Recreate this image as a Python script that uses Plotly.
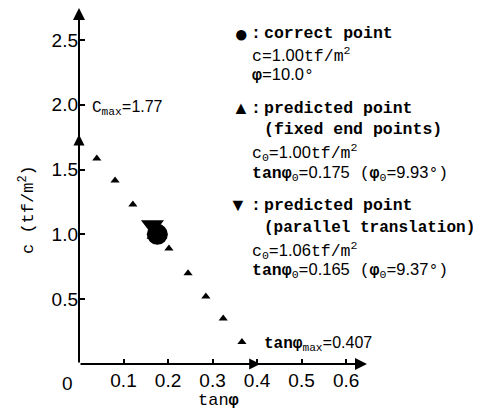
import plotly.graph_objects as go

# ---- data ----
tan_phi_pred = [0.040, 0.081, 0.121, 0.202, 0.245, 0.285, 0.324, 0.366]
c_pred = [1.585, 1.415, 1.23, 0.89, 0.70, 0.52, 0.35, 0.17]
correct_tan, correct_c = [0.176], [1.00]
fixed_tan, fixed_c = [0.175], [1.00]
parallel_tan, parallel_c = [0.165], [1.07]
c_max = 1.77
tan_max = 0.407
x_ticks = [0.1, 0.2, 0.3, 0.4, 0.5, 0.6]
y_ticks = [0.5, 1.0, 1.5, 2.0, 2.5]
x_range = [0, 0.647]
y_range = [0, 2.746]

# page body has an 8px margin; the figure is drawn inside it
OFF = 8
W, H = 481 - OFF, 415 - OFF
L, R, T, B = 79 - OFF, 367 - OFF, 7 - OFF, 364 - OFF
T = max(T, 0)

def px(x):
    return (x - OFF - L) / (R - L)

def py(y):
    return (B - (y - OFF)) / (B - T)

MONO = "Liberation Mono, Courier New, monospace"
SANS = "Liberation Sans, Arial, sans-serif"

def s(t):
    return f'<span style="font-family:\'Liberation Sans\'">{t}</span>'

fig = go.Figure()
fig.add_trace(go.Scatter(x=tan_phi_pred, y=c_pred, mode="markers",
                         marker=dict(symbol="triangle-up", size=8, color="black"),
                         showlegend=False, cliponaxis=False))
fig.add_trace(go.Scatter(x=fixed_tan, y=fixed_c, mode="markers",
                         marker=dict(symbol="triangle-up", size=18, color="black"),
                         showlegend=False, cliponaxis=False))
fig.add_trace(go.Scatter(x=parallel_tan, y=parallel_c, mode="markers",
                         marker=dict(symbol="triangle-down", size=20, color="black"),
                         showlegend=False, cliponaxis=False))
fig.add_trace(go.Scatter(x=correct_tan, y=correct_c, mode="markers",
                         marker=dict(symbol="circle", size=21, color="black"),
                         showlegend=False, cliponaxis=False))

ann = []
# axis arrows
ann.append(dict(x=0, y=y_range[1], ax=0, ay=0, xref="x", yref="y", axref="x", ayref="y",
                showarrow=True, arrowhead=2, arrowsize=1.2, arrowwidth=2, arrowcolor="black", text=""))
ann.append(dict(x=x_range[1], y=0, ax=0, ay=0, xref="x", yref="y", axref="x", ayref="y",
                showarrow=True, arrowhead=2, arrowsize=1.2, arrowwidth=2, arrowcolor="black", text=""))
# c_max and tan_max arrows
ann.append(dict(x=0, y=c_max, ax=0, ay=c_max - 0.3, xref="x", yref="y", axref="x", ayref="y",
                showarrow=True, arrowhead=2, arrowsize=1.1, arrowwidth=2, arrowcolor="black", text=""))
ann.append(dict(x=tan_max, y=0, ax=tan_max - 0.08, ay=0, xref="x", yref="y", axref="x", ayref="y",
                showarrow=True, arrowhead=2, arrowsize=1.1, arrowwidth=2, arrowcolor="black", text=""))

def txt(x, y, text, size=16.5, family=MONO, xanchor="left", angle=0):
    ann.append(dict(x=px(x), y=py(y), xref="paper", yref="paper", text=text, showarrow=False,
                    xanchor=xanchor, yanchor="middle", textangle=angle,
                    font=dict(family=family, size=size, color="black")))

sub0 = '<sub>0</sub>'
phi = '<b>φ</b>'
# legend block
txt(241, 33, "●", size=24, family=SANS, xanchor="center")
txt(256, 33, "<b>:</b>", xanchor="center")
txt(262, 33, "<b>correct point</b>")
txt(250, 55, "c=" + s("1.00") + "tf/m<sup>2</sup>")
txt(250, 75, phi + "=" + s("10.0") + "°")
txt(241, 108, "▲", size=18, family=SANS, xanchor="center")
txt(256, 108, "<b>:</b>", xanchor="center")
txt(262, 108, "<b>predicted point</b>")
txt(262, 130, "<b>(fixed end points)</b>")
txt(250, 152, "c" + sub0 + "=" + s("1.00") + "tf/m<sup>2</sup>")
txt(250, 173, "<b>tan</b>" + phi + sub0 + "=" + s("0.175") + " (" + phi + sub0 + "=" + s("9.93") + "°)")
txt(238, 205, "▼", size=18, family=SANS, xanchor="center")
txt(256, 205, "<b>:</b>", xanchor="center")
txt(262, 205, "<b>predicted point</b>")
txt(262, 228, "<b>(parallel translation)</b>", size=16)
txt(250, 250, "c" + sub0 + "=" + s("1.06") + "tf/m<sup>2</sup>")
txt(250, 270, "<b>tan</b>" + phi + sub0 + "=" + s("0.165") + " (" + phi + sub0 + "=" + s("9.37") + "°)")

# c_max / tan_max labels
txt(90, 108, "C<sub>max</sub>=" + s(f"{c_max:.2f}"), size=16)
txt(262, 344, "<b>tan</b>" + phi + "<sub>max</sub>=" + s(f"{tan_max:.3f}"), size=16)

# axis titles
txt(27, 210, "c (tf/m<sup>2</sup>)", size=17, xanchor="center", angle=-90)
txt(218, 400, "tan" + phi, size=17, xanchor="center")
# origin label
txt(67, 383, "0", size=19, family=SANS, xanchor="center")

fig.update_layout(
    width=W, height=H,
    margin=dict(l=L, r=W - R, t=T, b=H - B, pad=0),
    paper_bgcolor="white", plot_bgcolor="white",
    showlegend=False,
    annotations=ann,
    xaxis=dict(range=x_range, tickvals=x_ticks, ticktext=[f"{v:.1f}" for v in x_ticks],
               ticks="inside", ticklen=5, tickwidth=1.5, tickcolor="black",
               showgrid=False, zeroline=False, showline=False,
               tickfont=dict(family=SANS, size=19, color="black"), ticklabelstandoff=3),
    yaxis=dict(range=y_range, tickvals=y_ticks, ticktext=[f"{v:.1f}" for v in y_ticks],
               ticks="inside", ticklen=6, tickwidth=1.5, tickcolor="black",
               showgrid=False, zeroline=False, showline=False,
               tickfont=dict(family=SANS, size=19, color="black")),
)

fig.write_html("out.html")
